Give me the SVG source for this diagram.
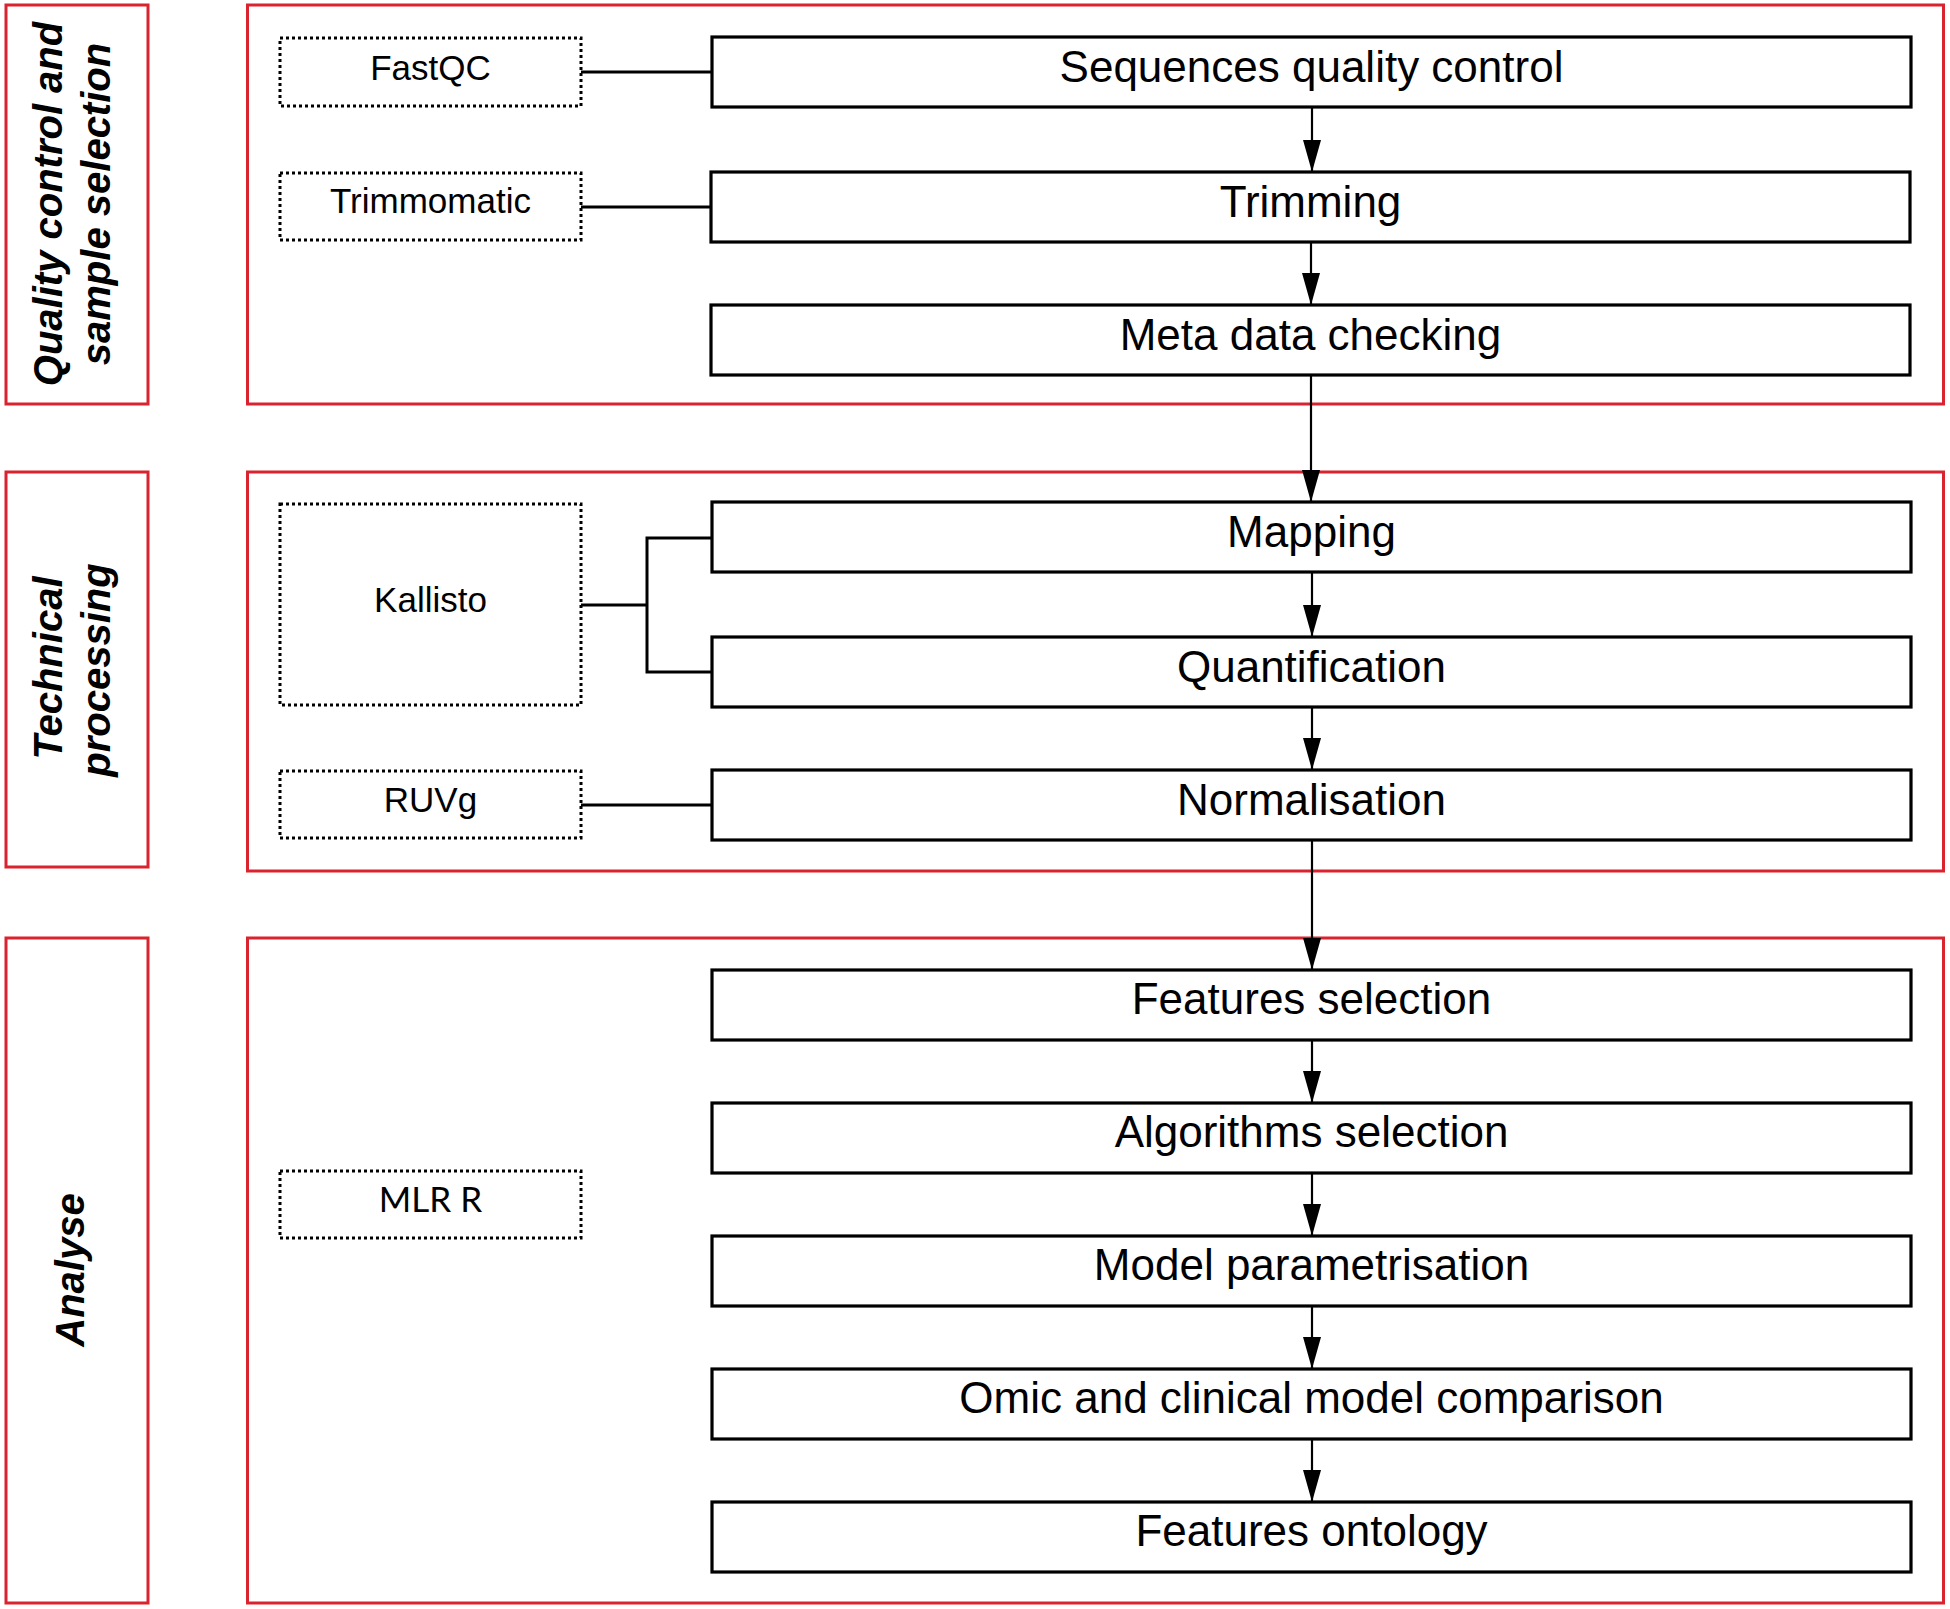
<svg xmlns="http://www.w3.org/2000/svg" width="1950" height="1609" viewBox="0 0 1950 1609">
<style>
.frame{fill:none;stroke:#d9232e;stroke-width:3}
.step{fill:#fff;stroke:#000;stroke-width:3.2}
.tool{fill:#fff;stroke:#000;stroke-width:3;stroke-dasharray:3 3}
.lbl{font-family:"Liberation Sans",Arial,sans-serif;font-size:44px;fill:#000;text-anchor:middle}
.tl{font-family:"Liberation Sans",Arial,sans-serif;font-size:35px;fill:#000;text-anchor:middle}
.tl2{font-family:Lato,"Liberation Sans",sans-serif;font-size:35px;fill:#000;text-anchor:middle}
.phase{font-family:"Liberation Sans",Arial,sans-serif;font-size:40px;font-weight:bold;font-style:italic;fill:#000;text-anchor:middle}
.conn{fill:none;stroke:#000;stroke-width:3}
.arr{fill:none;stroke:#000;stroke-width:2.2}
</style>
<defs>
<marker id="ah" viewBox="0 0 32 20" refX="32" refY="10" markerWidth="32" markerHeight="20" markerUnits="userSpaceOnUse" orient="auto">
<path d="M0,1 L32,10 L0,19 z" fill="#000"/>
</marker>
</defs>
<rect width="1950" height="1609" fill="#fff"/>

<g id="phase-qc">
<rect class="frame" x="6" y="5" width="142" height="399"/>
<text class="phase" transform="translate(62,204) rotate(-90)">Quality control and</text>
<text class="phase" transform="translate(110,204) rotate(-90)">sample selection</text>
</g>
<g id="phase-tech">
<rect class="frame" x="6" y="472" width="142" height="395"/>
<text class="phase" transform="translate(62,668) rotate(-90)">Technical</text>
<text class="phase" transform="translate(110,670) rotate(-90)">processing</text>
</g>
<g id="phase-analyse">
<rect class="frame" x="6" y="938" width="142" height="665"/>
<text class="phase" transform="translate(84,1270) rotate(-90)">Analyse</text>
</g>

<g id="frame-qc"><rect class="frame" x="247.5" y="5" width="1696" height="399"/></g>
<g id="frame-tech"><rect class="frame" x="247.5" y="472" width="1696" height="399"/></g>
<g id="frame-analyse"><rect class="frame" x="247.5" y="938" width="1696" height="665"/></g>

<g id="connectors">
<path class="conn" d="M581,72 H712"/>
<path class="conn" d="M581,207 H711"/>
<path class="conn" d="M581,605 H647 M647,538 V672 M645.5,538 H712 M645.5,672 H712"/>
<path class="conn" d="M581,805 H712"/>
<line class="arr" x1="1312" y1="107" x2="1312" y2="172" marker-end="url(#ah)"/>
<line class="arr" x1="1311" y1="242" x2="1311" y2="305" marker-end="url(#ah)"/>
<line class="arr" x1="1311" y1="375" x2="1311" y2="502" marker-end="url(#ah)"/>
<line class="arr" x1="1312" y1="572" x2="1312" y2="637" marker-end="url(#ah)"/>
<line class="arr" x1="1312" y1="707" x2="1312" y2="770" marker-end="url(#ah)"/>
<line class="arr" x1="1312" y1="840" x2="1312" y2="970" marker-end="url(#ah)"/>
<line class="arr" x1="1312" y1="1040" x2="1312" y2="1103" marker-end="url(#ah)"/>
<line class="arr" x1="1312" y1="1173" x2="1312" y2="1236" marker-end="url(#ah)"/>
<line class="arr" x1="1312" y1="1306" x2="1312" y2="1369" marker-end="url(#ah)"/>
<line class="arr" x1="1312" y1="1439" x2="1312" y2="1502" marker-end="url(#ah)"/>
</g>

<g id="tool-fastqc"><rect class="tool" x="280" y="38" width="301" height="68"/><text class="tl" x="430.5" y="80">FastQC</text></g>
<g id="tool-trimmomatic"><rect class="tool" x="280" y="173" width="301" height="67"/><text class="tl" x="430.5" y="213">Trimmomatic</text></g>
<g id="tool-kallisto"><rect class="tool" x="280" y="504" width="301" height="201"/><text class="tl" x="430.5" y="612">Kallisto</text></g>
<g id="tool-ruvg"><rect class="tool" x="280" y="771" width="301" height="67"/><text class="tl" x="430.5" y="812">RUVg</text></g>
<g id="tool-mlr"><rect class="tool" x="280" y="1171" width="301" height="67"/><text class="tl2" x="430.5" y="1212">MLR R</text></g>

<g id="step-seqqc"><rect class="step" x="712" y="37" width="1199" height="70"/><text class="lbl" x="1311.5" y="82">Sequences quality control</text></g>
<g id="step-trimming"><rect class="step" x="711" y="172" width="1199" height="70"/><text class="lbl" x="1310.5" y="217">Trimming</text></g>
<g id="step-meta"><rect class="step" x="711" y="305" width="1199" height="70"/><text class="lbl" x="1310.5" y="350">Meta data checking</text></g>
<g id="step-mapping"><rect class="step" x="712" y="502" width="1199" height="70"/><text class="lbl" x="1311.5" y="547">Mapping</text></g>
<g id="step-quant"><rect class="step" x="712" y="637" width="1199" height="70"/><text class="lbl" x="1311.5" y="682">Quantification</text></g>
<g id="step-norm"><rect class="step" x="712" y="770" width="1199" height="70"/><text class="lbl" x="1311.5" y="815">Normalisation</text></g>
<g id="step-featsel"><rect class="step" x="712" y="970" width="1199" height="70"/><text class="lbl" x="1311.5" y="1014">Features selection</text></g>
<g id="step-algsel"><rect class="step" x="712" y="1103" width="1199" height="70"/><text class="lbl" x="1311.5" y="1147">Algorithms selection</text></g>
<g id="step-model"><rect class="step" x="712" y="1236" width="1199" height="70"/><text class="lbl" x="1311.5" y="1280">Model parametrisation</text></g>
<g id="step-omic"><rect class="step" x="712" y="1369" width="1199" height="70"/><text class="lbl" x="1311.5" y="1413">Omic and clinical model comparison</text></g>
<g id="step-ontology"><rect class="step" x="712" y="1502" width="1199" height="70"/><text class="lbl" x="1311.5" y="1546">Features ontology</text></g>
</svg>
